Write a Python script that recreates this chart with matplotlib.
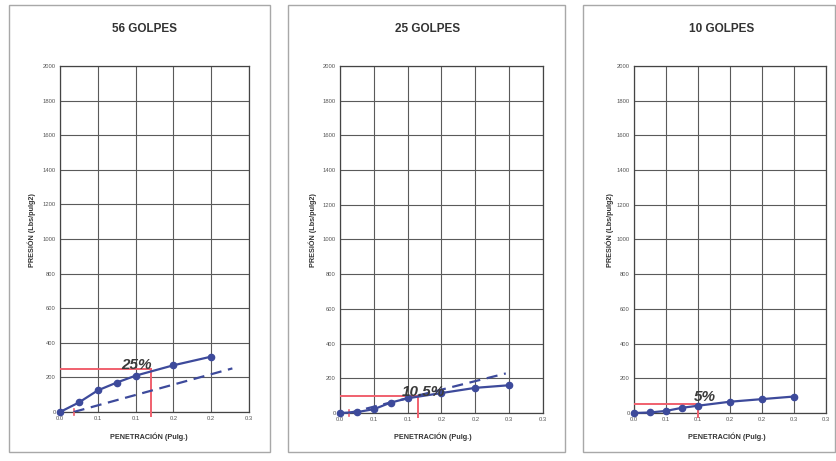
import matplotlib
matplotlib.use("Agg")
import matplotlib.pyplot as plt
from matplotlib.patches import Rectangle

plt.rcParams['font.family'] = ['Liberation Sans', 'DejaVu Sans']

# ---- data -------------------------------------------------------------
titles = ["56 GOLPES", "25 GOLPES", "10 GOLPES"]
cbr_labels = ["25%", "10.5%", "5%"]

pen_56 = [0.0, 0.025, 0.05, 0.075, 0.1, 0.15, 0.2]
pres_56 = [0, 55, 125, 170, 210, 270, 320]

pen_25 = [0.0, 0.025, 0.05, 0.075, 0.1, 0.15, 0.2, 0.25]
pres_25 = [0, 5, 22, 60, 85, 115, 145, 160]

pen_10 = [0.0, 0.025, 0.05, 0.075, 0.1, 0.15, 0.2, 0.25]
pres_10 = [0, 3, 12, 30, 42, 65, 80, 95]

# corrected (dashed) lines: start/end points
corr_56_x = [0.018, 0.228]
corr_56_y = [0, 252]
corr_25_x = [0.013, 0.245]
corr_25_y = [0, 228]

# design reading (red guide lines): penetration, pressure
read_56 = (0.12, 250)
read_25 = (0.115, 100)
read_10 = (0.1, 50)

# start of corrected curve (small red tick)
origin_56 = 0.018
origin_25 = 0.013

# x axis ticks (0.05 steps, labelled with one decimal)
xticks_a = [0.0, 0.05, 0.1, 0.15, 0.2, 0.25]
xlabels_a = ["0.0", "0.1", "0.1", "0.2", "0.2", "0.3"]
xticks_b = [0.0, 0.05, 0.1, 0.15, 0.2, 0.25, 0.3]
xlabels_b = ["0.0", "0.1", "0.1", "0.2", "0.2", "0.3", "0.3"]
yticks = [0, 200, 400, 600, 800, 1000, 1200, 1400, 1600, 1800, 2000]

# ---- styling ----------------------------------------------------------
W, H = 837, 461
BLUE = "#3d4a9b"
RED = "#f0606e"
GRID = "#5a5a5a"

fig = plt.figure(figsize=(W / 100, H / 100), dpi=100)
fig.patch.set_facecolor("white")


def px_rect(x0, x1, ytop, ybot):
    return [x0 / W, 1 - ybot / H, (x1 - x0) / W, (ybot - ytop) / H]


# panel frames
for (x0, x1) in [(9, 270), (288, 565), (583, 835)]:
    fig.patches.append(Rectangle((x0 / W, 1 - 452 / H), (x1 - x0) / W, (452 - 5) / H,
                                 transform=fig.transFigure, fill=False,
                                 edgecolor="#a8a8a8", lw=1.0))

panels = [
    dict(rect=(60, 249, 66, 412), xmax=0.25, xt=xticks_a, xl=xlabels_a,
         pen=pen_56, pres=pres_56, corr=(corr_56_x, corr_56_y), read=read_56,
         origin=origin_56, title_x=144, ylab_x=32, xlab_x=149,
         txt=(0.101, 272)),
    dict(rect=(340, 543, 66, 413), xmax=0.30, xt=xticks_b, xl=xlabels_b,
         pen=pen_25, pres=pres_25, corr=(corr_25_x, corr_25_y), read=read_25,
         origin=origin_25, title_x=428, ylab_x=313, xlab_x=433,
         txt=(0.123, 120)),
    dict(rect=(634, 826, 66, 413), xmax=0.30, xt=xticks_b, xl=xlabels_b,
         pen=pen_10, pres=pres_10, corr=None, read=read_10,
         origin=None, title_x=722, ylab_x=610, xlab_x=727,
         txt=(0.11, 92)),
]

for i, p in enumerate(panels):
    x0, x1, yt, yb = p["rect"]
    ax = fig.add_axes(px_rect(x0, x1, yt, yb))
    ax.set_xlim(0, p["xmax"])
    ax.set_ylim(0, 2000)
    ax.set_xticks(p["xt"])
    ax.set_xticklabels(p["xl"])
    ax.set_yticks(yticks)
    ax.set_yticklabels([str(v) for v in yticks])
    ax.tick_params(axis="both", labelsize=4.2, colors="#555555", length=0, pad=3)
    ax.grid(True, color=GRID, lw=0.8)
    ax.set_axisbelow(True)
    for s in ax.spines.values():
        s.set_color("#444444")
        s.set_linewidth(0.9)

    # red guide lines for the design reading
    rx, ry = p["read"]
    ax.plot([0, rx], [ry, ry], color=RED, lw=1.4, zorder=3)
    ax.plot([rx, rx], [-25, ry], color=RED, lw=1.4, zorder=3, clip_on=False)
    if p["origin"] is not None:
        ax.plot([p["origin"], p["origin"]], [-20, 15], color=RED, lw=1.2,
                zorder=3, clip_on=False)

    # corrected curve
    if p["corr"] is not None:
        cx, cy = p["corr"]
        ax.plot(cx, cy, color=BLUE, lw=1.6, ls=(0, (5, 3)), zorder=4)

    # measured curve
    ax.plot(p["pen"], p["pres"], color=BLUE, lw=1.6, marker="o", ms=4.5,
            mfc=BLUE, mec=BLUE, zorder=5, clip_on=False)

    # CBR value
    tx, ty = p["txt"]
    ax.text(tx, ty, cbr_labels[i], fontsize=11, fontweight="bold", style="italic",
            color="#3a3a3a", ha="center", va="center", zorder=6)

    # texts in figure coords
    fig.text(p["title_x"] / W, 1 - 29 / H, titles[i], fontsize=8.5, fontweight="bold",
             color="#333333", ha="center", va="center")
    fig.text(p["ylab_x"] / W, 1 - 230 / H, "PRESIÓN (Lbs/pulg2)", fontsize=5.2,
             fontweight="bold", color="#333333", rotation=90, ha="center", va="center")
    fig.text(p["xlab_x"] / W, 1 - 437 / H, "PENETRACIÓN (Pulg.)", fontsize=5.2,
             fontweight="bold", color="#333333", ha="center", va="center")

fig.savefig("out.png", dpi=100, facecolor="white")
